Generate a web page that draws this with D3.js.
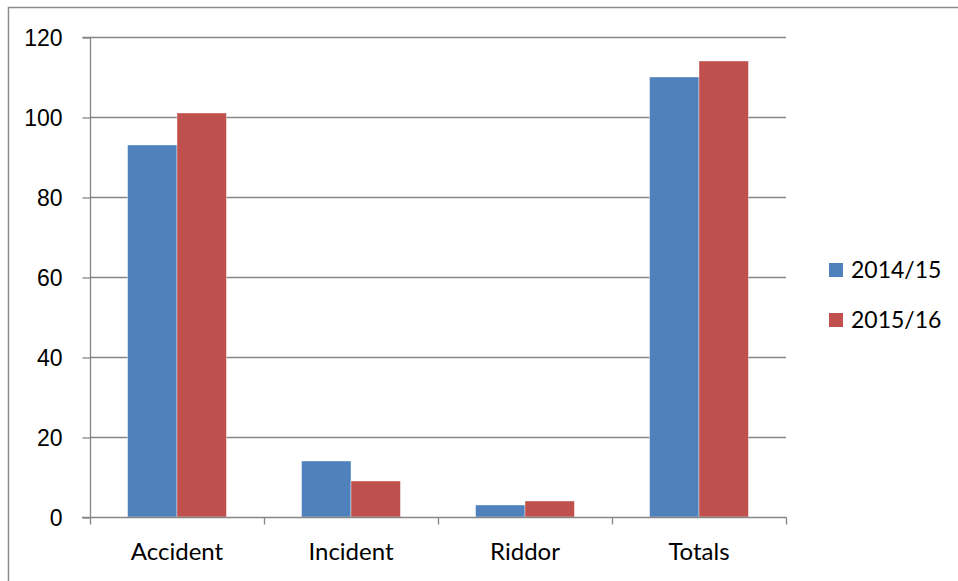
<!DOCTYPE html>
<html>
<head>
<meta charset="utf-8">
<script src="https://cdn.jsdelivr.net/npm/d3@7"></script>
<style>
  html, body { margin: 0; padding: 0; background: #fff; }
  svg { display: block; font-family: Lato, "Open Sans", sans-serif; }
</style>
</head>
<body>
<svg id="chart" width="958" height="581"></svg>
<script>
// Incident counts by type, two reporting years
const categories = ["Accident", "Incident", "Riddor", "Totals"];
const seriesNames = ["2014/15", "2015/16"];
const values2014 = [93, 14, 3, 110];
const values2015 = [101, 9, 4, 114];
const yTicks = [0, 20, 40, 60, 80, 100, 120];
const colors = ["#4F81BD", "#C0504D"];

const seriesValues = [values2014, values2015];
const rows = categories.map((c, i) => ({
  category: c,
  values: seriesNames.map((s, j) => ({ series: s, value: seriesValues[j][i], color: colors[j] }))
}));

const svg = d3.select("#chart");
const plot = { left: 90, right: 786, top: 37, bottom: 517 };

// outer frame
svg.append("path")
  .attr("d", "M8.5,600 V7.5 H960")
  .attr("fill", "none")
  .attr("stroke", "#8c8c8c")
  .attr("stroke-width", 1.5);

const x0 = d3.scaleBand().domain(categories).range([plot.left, plot.right]).padding(0);
const x1 = d3.scaleBand().domain(seriesNames).range([0, x0.bandwidth()])
  .paddingInner(0).paddingOuter(0.76);
const y = d3.scaleLinear().domain([0, 120]).range([plot.bottom, plot.top]);

// horizontal gridlines
svg.append("g").selectAll("line").data(yTicks.filter(t => t > 0)).join("line")
  .attr("x1", plot.left).attr("x2", plot.right)
  .attr("y1", d => y(d) + 0.5).attr("y2", d => y(d) + 0.5)
  .attr("stroke", "#868686").attr("stroke-width", 1.3);

// bars
const groups = svg.append("g").selectAll("g").data(rows).join("g")
  .attr("transform", d => `translate(${x0(d.category)},0)`);
groups.selectAll("rect").data(d => d.values).join("rect")
  .attr("x", d => x1(d.series))
  .attr("width", x1.bandwidth())
  .attr("y", d => y(d.value))
  .attr("height", d => y(0) - y(d.value))
  .attr("fill", d => d.color)
  .attr("stroke", "rgba(255,255,255,0.5)")
  .attr("stroke-width", 0.8);

// y axis
const yAxis = d3.axisLeft(y).tickValues(yTicks).tickSize(8).tickPadding(20).tickFormat(d3.format("d"));
const gy = svg.append("g").attr("transform", `translate(${plot.left + 0.5},0.5)`).call(yAxis);
gy.select(".domain").attr("stroke", "#868686").attr("stroke-width", 1.3).attr("d", `M-8,${plot.top}H0V${plot.bottom}`);
gy.selectAll(".tick line").attr("stroke", "#868686").attr("stroke-width", 1.3);
gy.selectAll(".tick text").attr("fill", "#000").style("font-size", "23px").attr("dy", "0.35em");

// x axis: ticks sit on category boundaries
const xAxis = svg.append("g").attr("transform", `translate(0,${plot.bottom + 0.5})`);
xAxis.append("line").attr("x1", plot.left - 8).attr("x2", plot.right + 0.5)
  .attr("stroke", "#868686").attr("stroke-width", 1.3);
const bounds = categories.map(c => x0(c)).concat([plot.right]);
xAxis.selectAll("line.tk").data(bounds).join("line").attr("class", "tk")
  .attr("x1", d => d + 0.5).attr("x2", d => d + 0.5).attr("y1", 0).attr("y2", 7)
  .attr("stroke", "#868686").attr("stroke-width", 1.3);
xAxis.selectAll("text").data(categories).join("text")
  .attr("x", d => x0(d) + x0.bandwidth() / 2)
  .attr("y", 42)
  .attr("text-anchor", "middle")
  .attr("fill", "#000")
  .style("font-size", "24px")
  .text(d => d);

// legend
const legend = svg.append("g").selectAll("g").data(seriesNames).join("g")
  .attr("transform", (d, i) => `translate(829,${263 + i * 50})`);
legend.append("rect").attr("width", 14).attr("height", 14).attr("fill", (d, i) => colors[i]);
legend.append("text").attr("x", 22).attr("y", 15).attr("fill", "#000")
  .style("font-size", "23px").text(d => d);
</script>
</body>
</html>
